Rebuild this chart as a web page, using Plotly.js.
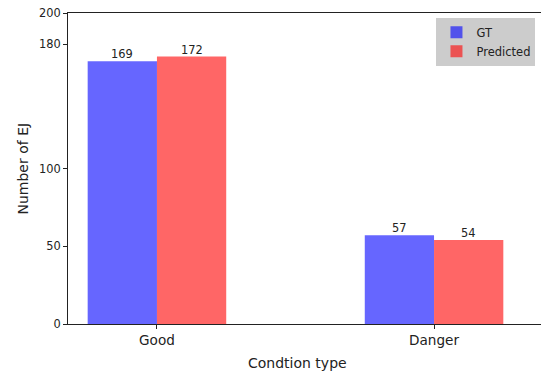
<!DOCTYPE html>
<html>
<head>
<meta charset="utf-8">
<script src="https://cdn.plot.ly/plotly-3.0.1.min.js"></script>
<style>html,body{margin:0;padding:0;overflow:hidden;background:#fff}</style>
</head>
<body>
<div id="chart" style="width:541px;height:376px"></div>
<script>
const categories = ["Good", "Danger"];
const gtValues = [169, 57];
const predValues = [172, 54];
const yTicks = [0, 50, 100, 180, 200];

const font = "DejaVu Sans, sans-serif";
const ink = "#222222";

const traces = [
  {
    type: "bar", name: "GT", x: [0, 1], y: gtValues,
    width: 0.25, offset: -0.25,
    marker: {color: "rgba(0,0,255,0.6)", line: {width: 0}}
  },
  {
    type: "bar", name: "Predicted", x: [0, 1], y: predValues,
    width: 0.25, offset: 0,
    marker: {color: "rgba(255,0,0,0.6)", line: {width: 0}}
  }
];

const valueLabels = [];
[[gtValues, -0.125], [predValues, 0.125]].forEach(([vals, dx]) => {
  vals.forEach((v, i) => {
    valueLabels.push({
      text: String(v), xref: "x", yref: "y", x: i + dx, y: v,
      xanchor: "center", yanchor: "bottom", showarrow: false, yshift: -2,
      font: {family: font, size: 11.4, color: ink}
    });
  });
});

const layout = {
  width: 541, height: 376,
  margin: {l: 68, r: 0, t: 13, b: 52},
  paper_bgcolor: "#ffffff", plot_bgcolor: "#ffffff",
  font: {family: font, color: ink},
  showlegend: true,
  barmode: "overlay",
  xaxis: {
    range: [-0.321, 1.386],
    tickvals: [0, 1], ticktext: categories,
    tickfont: {family: font, size: 13.6, color: ink},
    ticks: "outside", ticklen: 4, tickwidth: 1, tickcolor: ink,
    showgrid: false, zeroline: false,
    showline: true, mirror: true, linecolor: ink, linewidth: 1
  },
  yaxis: {
    range: [0, 200],
    tickvals: yTicks, ticktext: yTicks.map(String),
    tickfont: {family: font, size: 11.4, color: ink},
    ticks: "outside", ticklen: 4, tickwidth: 1, tickcolor: ink,
    showgrid: false, zeroline: false,
    showline: true, linecolor: ink, linewidth: 1
  },
  legend: {
    x: 0.779, y: 0.985, xanchor: "left", yanchor: "top",
    bgcolor: "#cccccc", borderwidth: 0,
    font: {family: font, size: 11.5, color: ink},
    traceorder: "normal", tracegroupgap: 0
  },
  annotations: valueLabels.concat([
    {text: "Condtion type", xref: "paper", yref: "paper",
     x: (297 - 68) / 473, y: -(363 - 324) / 311, xanchor: "center", yanchor: "middle",
     showarrow: false, font: {family: font, size: 14, color: ink}},
    {text: "Number of EJ", xref: "paper", yref: "paper",
     x: (22 - 68) / 473, y: 0.5, xanchor: "center", yanchor: "middle", textangle: -90,
     showarrow: false, font: {family: font, size: 14, color: ink}}
  ])
};

Plotly.newPlot("chart", traces, layout, {displayModeBar: false, staticPlot: true});
</script>
</body>
</html>
